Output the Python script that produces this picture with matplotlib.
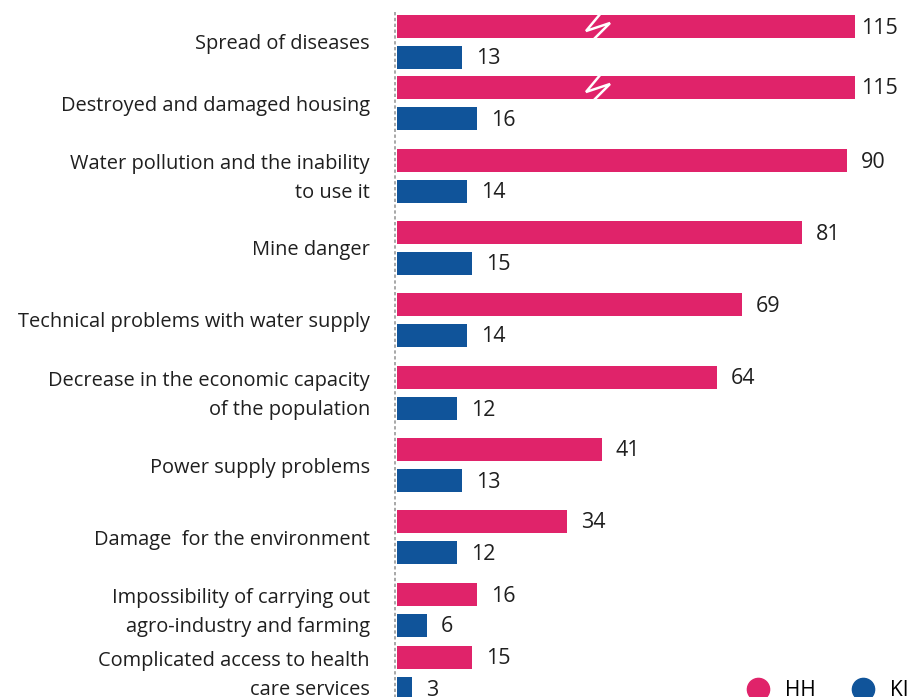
import matplotlib.pyplot as plt
from matplotlib.lines import Line2D

categories = [
    "Spread of diseases",
    "Destroyed and damaged housing",
    "Water pollution and the inability\nto use it",
    "Mine danger",
    "Technical problems with water supply",
    "Decrease in the economic capacity\nof the population",
    "Power supply problems",
    "Damage  for the environment",
    "Impossibility of carrying out\nagro-industry and farming",
    "Complicated access to health\ncare services",
]
hh = [115, 115, 90, 81, 69, 64, 41, 34, 16, 15]
ki = [13, 16, 14, 15, 14, 12, 13, 12, 6, 3]

# layout (pixel rows of the HH bar in each group)
group_y = [26, 87, 160, 232, 304, 377, 449, 521, 594, 657]
ki_offset = 31
bar_h = 23
cap = 91.6  # bars above this are drawn broken

pink = "#E0236A"
blue = "#10549A"
txt = "#1f1f1f"

plt.rcParams['font.family'] = ['Open Sans', 'DejaVu Sans']
plt.rcParams['font.size'] = 14.4

fig = plt.figure(figsize=(9.08, 6.97), dpi=100)
ax = fig.add_axes([397 / 908, 0, 511 / 908, 1])
ax.set_xlim(0, 511 / 5)
ax.set_ylim(697, 0)

for i in range(len(categories)):
    y = group_y[i]
    v = hh[i]
    w = min(v, cap)
    ax.barh(y, w, height=bar_h, color=pink)
    ax.barh(y + ki_offset, ki[i], height=bar_h, color=blue)
    if v > cap:
        zx = [40.8, 37.8, 42.6, 39.4]
        zy = [y - 13, y + 5, y - 3, y + 13]
        ax.plot(zx, zy, color="white", lw=1.8, solid_joinstyle="miter")
        ax.text(w + 1.2, y + 2, str(v), va="center", ha="left", color=txt,
                fontsize=15.5, clip_on=False)
    else:
        ax.text(w + 2.8, y + 2, str(v), va="center", ha="left", color=txt, fontsize=15.5)
    ax.text(ki[i] + 2.8, y + ki_offset + 2, str(ki[i]), va="center", ha="left",
            color=txt, fontsize=15.5)
    ax.text(-5.4, y + ki_offset / 2 + 3, categories[i], va="center", ha="right",
            linespacing=1.55, color=txt, clip_on=False)

for s in ["top", "right", "bottom"]:
    ax.spines[s].set_visible(False)
ax.spines["left"].set_linestyle((0, (1, 2.5)))
ax.spines["left"].set_color("#999999")
ax.spines["left"].set_linewidth(1.2)
ax.spines["left"].set_position(("data", -0.4))
ax.spines["left"].set_bounds(697, 12)
ax.set_xticks([])
ax.set_yticks([])

handles = [
    Line2D([], [], marker="o", ls="", markersize=16, color=pink, label="HH"),
    Line2D([], [], marker="o", ls="", markersize=16, color=blue, label="KI"),
]
fig.legend(handles=handles, loc="center left", bbox_to_anchor=(718 / 908, 1 - 691 / 697),
           ncol=2, frameon=False, handletextpad=0.3, columnspacing=1.3, fontsize=15)

fig.savefig("out.png", dpi=100)
